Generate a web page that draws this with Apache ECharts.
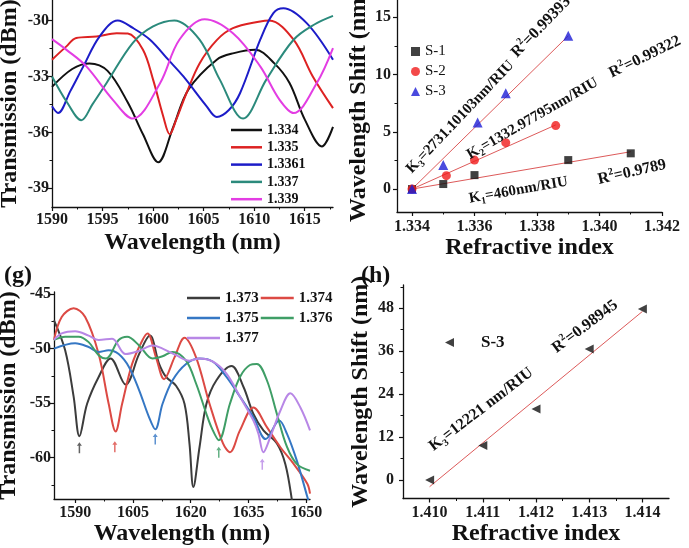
<!DOCTYPE html>
<html lang="en">
<head>
<meta charset="UTF-8">
<title>RI sensing</title>
<script src="https://cdn.jsdelivr.net/npm/echarts@6/dist/echarts.min.js"></script>
<style>html,body{margin:0;padding:0;background:#fff}</style>
</head>
<body>
<div id="ec" style="width:689px;height:548px"></div>
<script>
// ---- panel (e): spectra, RI 1.334 - 1.339
var names1 = ['1.334', '1.335', '1.3361', '1.337', '1.339']
var wl_1334 = [1590, 1592, 1593.7, 1595.5, 1597.5, 1599, 1600.5, 1602, 1603.5, 1606.3, 1608, 1610.1, 1612, 1613.5, 1615, 1616.7, 1617.8]
var db_1334 = [-33.56, -32.6, -32.3, -32.7, -34.4, -36.1, -37.6, -35.7, -33.7, -32.1, -31.75, -31.57, -32.3, -33.35, -35.3, -36.75, -35.7]
var wl_1335 = [1590, 1591.4, 1592.4, 1594.4, 1596.4, 1597.5, 1599, 1600, 1601, 1601.65, 1602.3, 1603.3, 1604.6, 1606.3, 1607.9, 1610.6, 1611.5, 1613.9, 1615.8, 1617.8]
var db_1335 = [-32.1, -31.4, -30.94, -30.86, -30.68, -30.7, -31.57, -33.17, -35.13, -36.1, -35.3, -33.9, -32.3, -31.05, -30.41, -30.05, -30.0, -31.03, -33.0, -34.7]
var wl_13361 = [1590, 1590.6, 1591.8, 1593.1, 1594.7, 1596.5, 1598, 1599.7, 1601.5, 1603, 1605.3, 1606.3, 1607.5, 1608.6, 1610.6, 1611.9, 1612.9, 1615.2, 1617.8]
var db_13361 = [-34.6, -34.96, -33.8, -32.46, -30.86, -30.0, -30.4, -31.03, -32.1, -33.0, -34.6, -35.17, -34.8, -33.9, -31.03, -29.6, -29.34, -30.14, -32.1]
var wl_1337 = [1590, 1591.5, 1592.9, 1594, 1595.4, 1598, 1600, 1602.1, 1604.6, 1606.6, 1608.9, 1611.2, 1613.9, 1616, 1617.8]
var db_1337 = [-33.0, -34.4, -35.35, -34.5, -33.35, -31.2, -30.32, -30.0, -31.03, -33.17, -35.26, -33.17, -31.03, -30.2, -29.75]
var wl_1339 = [1590, 1591.5, 1593.4, 1596, 1598, 1600.7, 1602.6, 1605.1, 1607.9, 1610.6, 1612.5, 1613.9, 1616.2, 1617.8]
var db_1339 = [-31.0, -31.6, -32.46, -34.24, -35.26, -33.35, -31.03, -29.93, -30.68, -32.46, -34.24, -34.96, -33.35, -31.48]

// ---- panel (f): shift vs RI
var ri_s1 = [1.334, 1.335, 1.336, 1.339, 1.341]
var sh_s1 = [0, 0.44, 1.22, 2.53, 3.12]
var ri_s2 = [1.334, 1.3351, 1.336, 1.337, 1.3386]
var sh_s2 = [0, 1.17, 2.53, 4.05, 5.54]
var ri_s3 = [1.334, 1.335, 1.3361, 1.337, 1.339]
var sh_s3 = [0, 2.1, 5.8, 8.36, 13.37]
var fitRi1 = [1.334, 1.341], fitSh1 = [0, 3.26]
var fitRi2 = [1.334, 1.3386], fitSh2 = [0, 5.6]
var fitRi3 = [1.334, 1.339], fitSh3 = [0, 13.37]

// ---- panel (g): spectra, RI 1.373 - 1.377
var names3 = ['1.373', '1.374', '1.375', '1.376', '1.377']
var wl_1373 = [1584.5, 1587.4, 1589.6, 1591.1, 1593.1, 1596.1, 1599.2, 1603.1, 1606.6, 1609.4, 1611.8, 1613.6, 1616.2, 1618.4, 1619.7, 1620.7, 1622.3, 1624.1, 1626.7, 1630.6, 1633.7, 1636.3, 1638.9, 1642.4, 1644.6, 1646.3, 1647]
var db_1373 = [-47.4, -50.15, -54.4, -58.04, -55.06, -52.6, -50.9, -53.3, -50.5, -48.8, -51.4, -52.6, -53.4, -55.06, -58.74, -62.7, -59.05, -55.06, -52.9, -51.6, -53.5, -56, -57.5, -58.7, -60.6, -63.9, -66]
var wl_1374 = [1584.5, 1586.5, 1589.6, 1592.6, 1596.1, 1598.7, 1600.5, 1602.2, 1604.8, 1607.5, 1608.8, 1611, 1613.1, 1615.8, 1618.4, 1621.4, 1624.9, 1628.4, 1630.2, 1632.8, 1636.3, 1639.8, 1643.3, 1646.8, 1650.3, 1651]
var db_1374 = [-49.2, -47.1, -46.3, -47.1, -50.5, -55.06, -57.6, -55.06, -51.4, -49.2, -48.6, -50.8, -52.8, -50.8, -49.0, -50.8, -55.06, -58.7, -59.5, -57.5, -55.4, -57.2, -59.05, -60.6, -62.4, -63.3]
var wl_1375 = [1584.5, 1590, 1593.5, 1596.1, 1598.7, 1601.3, 1604, 1606.6, 1609.2, 1610.8, 1612.7, 1615.3, 1618.8, 1622.3, 1625.8, 1629.3, 1632.8, 1636.3, 1639.5, 1643, 1645, 1647.6, 1650.3, 1651]
var db_1375 = [-50, -49.5, -49.85, -50.3, -50.15, -50.5, -51.7, -53.8, -56.3, -57.4, -55.06, -52.9, -51.4, -50.9, -51.2, -52.6, -54.4, -56.3, -58.3, -56.6, -57.8, -60.3, -63.6, -64.5]
var wl_1376 = [1584.5, 1587.4, 1590.9, 1593.5, 1596.1, 1598, 1601.3, 1603.5, 1606.6, 1610.1, 1612.7, 1615.3, 1618.8, 1621.4, 1624.1, 1625.5, 1627.3, 1630.2, 1632.8, 1635.4, 1637.2, 1639.8, 1642.4, 1645, 1647.6, 1651]
var db_1376 = [-49.2, -48.9, -48.9, -49.4, -50.6, -50.9, -49.2, -48.9, -49.7, -50.9, -50.7, -50.3, -51.1, -53.2, -56, -57.3, -58.4, -55.06, -52.6, -51.5, -51.4, -52.9, -56, -59, -60.6, -61.2]
var wl_1377 = [1584.5, 1586.5, 1590, 1593.5, 1596.1, 1599.6, 1603.1, 1606.6, 1610.1, 1612.7, 1616.2, 1619.7, 1622.3, 1625.8, 1629.3, 1632.8, 1636.3, 1637.6, 1638.9, 1640.7, 1643.3, 1645.9, 1648.5, 1651]
var db_1377 = [-49.2, -48.6, -48.4, -48.8, -49.2, -49.1, -50.5, -50.2, -49.7, -50, -50.6, -51.1, -50.9, -51.2, -52.3, -54.4, -56.6, -57.8, -59.5, -58.1, -55.7, -54.1, -55.4, -57.5]
var arrowWl = [1591.1, 1600.3, 1610.8, 1627.3, 1638.6]
var arrowDb = [-59.1, -59.0, -58.3, -59.5, -60.6]

// ---- panel (h): shift vs RI, S-3
var ri_h = [1.410, 1.411, 1.412, 1.413, 1.414]
var sh_h = [0, 9.6, 19.8, 36.6, 47.8]
var fitRiH = [1.410, 1.414], fitShH = [-1.9, 47.1]

// ---- tick labels
var ticks1x = [1590, 1595, 1600, 1605, 1610, 1615], minor1x = [1592.5, 1597.5, 1602.5, 1607.5, 1612.5, 1617.5]
var ticks1y = [-39, -36, -33, -30], minor1y = [-37.5, -34.5, -31.5, -28.5]
var ticks2x = [1.334, 1.336, 1.338, 1.340, 1.342], minor2x = [1.335, 1.337, 1.339, 1.341]
var ticks2y = [0, 5, 10, 15], minor2y = [2.5, 7.5, 12.5]
var ticks3x = [1590, 1605, 1620, 1635, 1650], minor3x = [1597.5, 1612.5, 1627.5, 1642.5]
var ticks3y = [-60, -55, -50, -45], minor3y = [-62.5, -57.5, -52.5, -47.5]
var ticks4x = [1.410, 1.411, 1.412, 1.413, 1.414], minor4x = [1.4105, 1.4115, 1.4125, 1.4135]
var ticks4y = [0, 12, 24, 36, 48], minor4y = [6, 18, 30, 42, 54]

var FONT = "'Liberation Serif','Times New Roman',serif"
var colors1 = ['#111111', '#dd2222', '#1c1cc8', '#2b8a7c', '#e33de3']
var colors3 = ['#3c3c3c', '#dc4a44', '#3577c4', '#3f9e66', '#b887e6']
var fitColor = '#dd5a5a'

function zip(a, b) { return a.map(function (v, i) { return [v, b[i]] }) }

function axisPair(dim, grid, min, max, major, minor, o) {
    var pos = dim == 'x' ? 'bottom' : 'left'
    var main = {
        type: 'value', gridIndex: grid, min: min, max: max, position: pos,
        name: o.name, nameLocation: 'middle', nameGap: o.gap,
        nameTextStyle: { fontFamily: FONT, fontWeight: 'bold', fontSize: 24, color: '#111' },
        axisLine: { onZero: false, lineStyle: { color: '#111', width: 1.3 } },
        axisTick: { customValues: major, length: 4, lineStyle: { color: '#111', width: 1.2 } },
        axisLabel: { customValues: major, margin: o.margin, fontFamily: FONT, fontWeight: 'bold', fontSize: 16, color: '#1a1a1a', formatter: o.fmt || plain },
        splitLine: { show: false }
    }
    var sub = {
        type: 'value', gridIndex: grid, min: min, max: max, position: pos,
        axisLine: { show: false, onZero: false }, axisLabel: { show: false }, splitLine: { show: false },
        axisTick: { customValues: minor, length: 2.5, lineStyle: { color: '#111', width: 1 } }
    }
    return [main, sub]
}
function fix3(v) { return v.toFixed(3) }
function plain(v) { return String(v) }

var xAxes = [].concat(
    axisPair('x', 0, 1590, 1617.8, ticks1x, minor1x, { name: 'Wavelength (nm)', gap: 24, margin: 5 }),
    axisPair('x', 1, 1.33352, 1.342, ticks2x, minor2x, { name: 'Refractive index', gap: 22, margin: 7, fmt: fix3 }),
    axisPair('x', 2, 1584.5, 1651, ticks3x, minor3x, { name: 'Wavelength (nm)', gap: 22, margin: 6 }),
    axisPair('x', 3, 1.4095, 1.4145, ticks4x, minor4x, { name: 'Refractive index', gap: 22, margin: 6, fmt: fix3 })
)
var yAxes = [].concat(
    axisPair('y', 0, -40, -28.9, ticks1y, minor1y, { name: 'Transmission (dBm)', gap: 30, margin: 3 }),
    axisPair('y', 1, -2, 16.5, ticks2y, minor2y, { name: 'Wavelength Shift (nm)', gap: 23, margin: 6 }),
    axisPair('y', 2, -63.8, -44.8, ticks3y, minor3y, { name: 'Transmission (dBm)', gap: 33, margin: 3 }),
    axisPair('y', 3, -5.2, 54.5, ticks4y, minor4y, { name: 'Wavelength Shift (nm)', gap: 30, margin: 9 })
)

var series = []
function curve(name, wl, db, color, g) {
    series.push({
        name: name, type: 'line', xAxisIndex: 2 * g, yAxisIndex: 2 * g,
        data: zip(wl, db), symbol: 'none', smooth: 0.35,
        lineStyle: { color: color, width: 2 }, itemStyle: { color: color }
    })
}
var wl1 = [wl_1334, wl_1335, wl_13361, wl_1337, wl_1339], db1 = [db_1334, db_1335, db_13361, db_1337, db_1339]
names1.forEach(function (n, i) { curve(n, wl1[i], db1[i], colors1[i], 0) })
var wl3 = [wl_1373, wl_1374, wl_1375, wl_1376, wl_1377], db3 = [db_1373, db_1374, db_1375, db_1376, db_1377]
names3.forEach(function (n, i) { curve(n, wl3[i], db3[i], colors3[i], 2) })

function fit(name, xs, ys, g) {
    series.push({
        name: name, type: 'line', xAxisIndex: 2 * g, yAxisIndex: 2 * g, data: zip(xs, ys),
        symbol: 'none', lineStyle: { color: fitColor, width: 1 }, z: 1
    })
}
fit('fit1', fitRi1, fitSh1, 1)
fit('fit2', fitRi2, fitSh2, 1)
fit('fit3', fitRi3, fitSh3, 1)
fit('fit4', fitRiH, fitShH, 3)

function dots(name, xs, ys, g, symbol, size, color, rot) {
    series.push({
        name: name, type: 'scatter', xAxisIndex: 2 * g, yAxisIndex: 2 * g, data: zip(xs, ys),
        symbol: symbol, symbolSize: size, symbolRotate: rot || 0, itemStyle: { color: color }, z: 3
    })
}
dots('S-1', ri_s1, sh_s1, 1, 'rect', 8, '#111111')
dots('S-2', ri_s2, sh_s2, 1, 'circle', 9, '#f01c1c')
dots('S-3', ri_s3, sh_s3, 1, 'triangle', 10, '#1d1dd6')
dots('S-3 ', ri_h, sh_h, 3, 'triangle', 9, '#111111', 90)

series.push({
    name: 'arrows', type: 'scatter', xAxisIndex: 4, yAxisIndex: 4, data: zip(arrowWl, arrowDb),
    symbol: 'path://M5,0 L10,7 L6.5,7 L6.5,22 L3.5,22 L3.5,7 L0,7 Z', symbolSize: [5, 11],
    itemStyle: { color: function (p) { return colors3[p.dataIndex] } }
})

var txt = { fontFamily: FONT, fontWeight: 'bold', color: '#111' }
var legends = [
    { orient: 'vertical', left: 231, top: 123, icon: 'rect', itemWidth: 31, itemHeight: 2.5, itemGap: 3.3, padding: 0,
      data: names1, textStyle: Object.assign({ fontSize: 14 }, txt) },
    { orient: 'vertical', left: 411, top: 44, itemWidth: 9, itemHeight: 9, itemGap: 5, padding: 0,
      data: ['S-1', 'S-2', 'S-3'], textStyle: { fontFamily: FONT, fontSize: 15, color: '#111' } },
    { orient: 'horizontal', left: 187, top: 289, width: 150, icon: 'rect', itemWidth: 33, itemHeight: 2.5, itemGap: 2, padding: 0,
      data: names3, textStyle: Object.assign({ fontSize: 15, lineHeight: 18 }, txt) },
    { orient: 'vertical', left: 445, top: 334, itemWidth: 9, itemHeight: 9, padding: 0,
      data: [{ name: 'S-3 ', icon: 'path://M0,5 L10,0 L10,10 Z' }],
      textStyle: Object.assign({ fontSize: 17, padding: [0, 0, 0, 22] }, txt) }
]
legends.forEach(function (l) { l.selectedMode = false })

function note(x, y, deg, text, size) {
    var small = Math.round(size * 0.65)
    return {
        type: 'text', x: x, y: y, rotation: deg * Math.PI / 180, z: 100,
        style: {
            text: text, fontFamily: FONT, fontWeight: 'bold', fontSize: size, fill: '#111',
            align: 'left', textAlign: 'left', verticalAlign: 'middle', textVerticalAlign: 'middle',
            rich: {
                n: { fontFamily: FONT, fontWeight: 'bold', fontSize: size, lineHeight: size + 4, verticalAlign: 'middle' },
                b: { fontFamily: FONT, fontWeight: 'bold', fontSize: small, lineHeight: small, verticalAlign: 'bottom' },
                p: { fontFamily: FONT, fontWeight: 'bold', fontSize: small, lineHeight: small, verticalAlign: 'top' }
            }
        }
    }
}
var graphics = [
    note(514, 55, 46, '{n|R}{p|2}{n|=0.99393}', 16),
    note(610, 74, 26, '{n|R}{p|2}{n|=0.99322}', 16),
    note(409, 171, 46.5, '{n|K}{b|3}{n|=2731.10103nm/RIU}', 15),
    note(468, 156, 30, '{n|K}{b|2}{n|=1332.97795nm/RIU}', 15),
    note(469, 199, 10, '{n|K}{b|1}{n|=460nm/RIU}', 15),
    note(598, 180, 13, '{n|R}{p|2}{n|=0.9789}', 16),
    note(431, 448, 37.5, '{n|K}{b|3}{n|=12221 nm/RIU}', 16),
    note(554, 350, 37, '{n|R}{p|2}{n|=0.98945}', 16),
    { type: 'text', x: 4, y: 276, style: { text: '(g)', fontFamily: FONT, fontWeight: 'bold', fontSize: 24, fill: '#111', verticalAlign: 'middle', textVerticalAlign: 'middle' } },
    { type: 'text', x: 361, y: 276, style: { text: '(h)', fontFamily: FONT, fontWeight: 'bold', fontSize: 24, fill: '#111', verticalAlign: 'middle', textVerticalAlign: 'middle' } }
]

var chart = echarts.init(document.getElementById('ec'))
chart.setOption({
    animation: false,
    backgroundColor: '#fff',
    grid: [
        { left: 52, top: 0, width: 281, height: 207, outerBoundsMode: 'none' },
        { left: 397, top: 0, width: 265, height: 212, outerBoundsMode: 'none' },
        { left: 54, top: 292, width: 256, height: 207, outerBoundsMode: 'none' },
        { left: 403, top: 285, width: 266, height: 213.5, outerBoundsMode: 'none' }
    ],
    xAxis: xAxes,
    yAxis: yAxes,
    legend: legends,
    series: series,
    graphic: graphics
})
</script>
</body>
</html>
